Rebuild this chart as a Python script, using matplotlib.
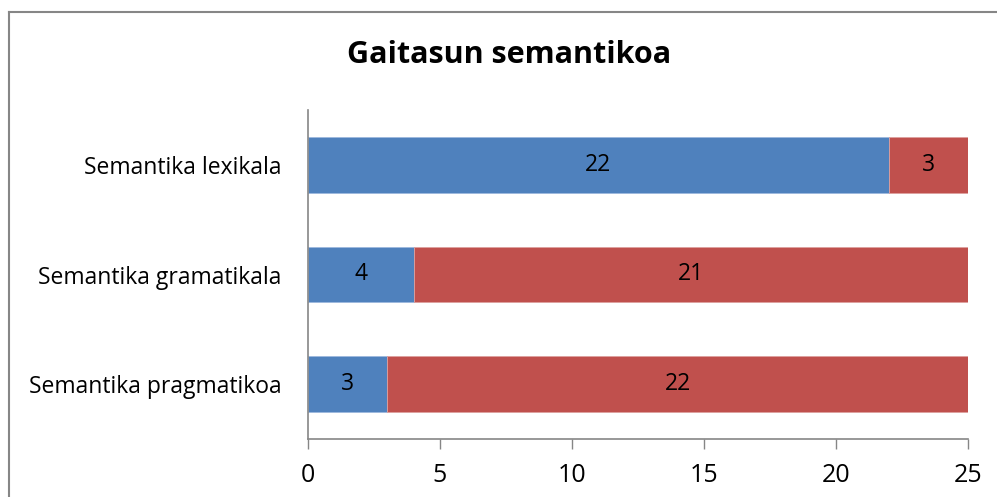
import matplotlib.pyplot as plt
from matplotlib.lines import Line2D

categories = ['Semantika lexikala', 'Semantika gramatikala', 'Semantika pragmatikoa']
blue_vals = [22, 4, 3]
red_vals = [3, 21, 22]
x_ticks = [0, 5, 10, 15, 20, 25]

plt.rcParams['font.family'] = ['Open Sans', 'DejaVu Sans']

fig = plt.figure(figsize=(9.97, 4.97), dpi=100)
ax = fig.add_axes([308 / 997, 1 - 439 / 497, 660 / 997, 329 / 497])

ypos = [2, 1, 0]
ax.barh(ypos, blue_vals, height=0.51, color='#4F81BD', edgecolor='#9DB9DD', linewidth=0.6)
ax.barh(ypos, red_vals, left=blue_vals, height=0.51, color='#C0504D', edgecolor='#DDA09E', linewidth=0.6)

for y, b, r in zip(ypos, blue_vals, red_vals):
    ax.text(b / 2, y, str(b), ha='center', va='center', fontsize=16.5, color='black')
    ax.text(b + r / 2, y, str(r), ha='center', va='center', fontsize=16.5, color='black')

ax.set_xlim(0, 25)
ax.set_ylim(-0.5, 2.5)
ax.set_xticks(x_ticks)
ax.set_yticks(ypos)
ax.set_yticklabels(categories)
ax.tick_params(axis='x', direction='out', length=7, width=1, color='#868686',
               labelsize=18, pad=10)
ax.tick_params(axis='y', length=0, labelsize=16.5, pad=19)

for s in ['top', 'right']:
    ax.spines[s].set_visible(False)
for s in ['left', 'bottom']:
    ax.spines[s].set_color('#868686')
    ax.spines[s].set_linewidth(1.2)

fig.text(509 / 997, 1 - 55 / 497, 'Gaitasun semantikoa', ha='center', va='center',
         fontsize=22, fontweight='bold')

# outer chart border (runs off the right and bottom edges)
fig.add_artist(Line2D([8.5 / 997, 8.5 / 997], [0, 1 - 11.5 / 497], color='#868686', lw=1.5,
                      transform=fig.transFigure))
fig.add_artist(Line2D([8.5 / 997, 1], [1 - 11.5 / 497, 1 - 11.5 / 497], color='#868686', lw=1.5,
                      transform=fig.transFigure))

fig.savefig('out.png', dpi=100)
